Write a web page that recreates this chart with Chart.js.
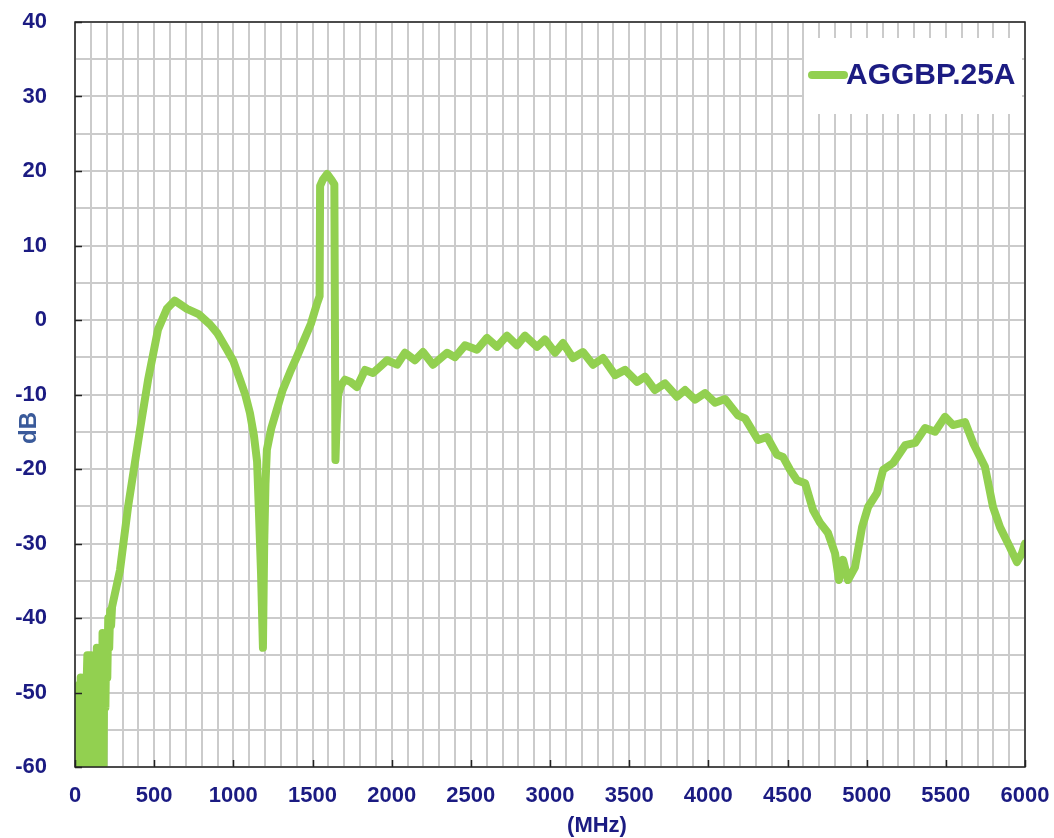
<!DOCTYPE html>
<html>
<head>
<meta charset="utf-8">
<script src="https://cdn.jsdelivr.net/npm/chart.js@4/dist/chart.umd.min.js"></script>
<style>
  html, body { margin: 0; padding: 0; background: #fff; }
  #wrap { width: 1054px; height: 838px; }
</style>
</head>
<body>
<div id="wrap"><canvas id="chart" width="1054" height="838"></canvas></div>
<script>
/* ----- data ----- */
const seriesName = 'AGGBP.25A';

const freqMHz = [
  0, 6, 12, 18, 24, 30, 36, 42, 48, 54, 60, 66, 72, 78, 84, 90, 96, 102, 108, 114,
  120, 126, 132, 138, 144, 150, 156, 162, 168, 174, 180, 186, 192, 198, 204, 210, 216, 222, 228, 234,
  284, 335, 410, 461, 524, 580, 630, 707, 780, 853, 900, 960, 1000, 1042, 1075, 1105, 1130, 1150,
  1162, 1175, 1187, 1195, 1203, 1212, 1240, 1275, 1310, 1358, 1400, 1440, 1490, 1530, 1545, 1548,
  1565, 1592, 1620, 1638, 1645, 1652, 1662, 1680, 1705, 1740, 1781, 1832, 1882, 1930, 1971, 2034,
  2084, 2147, 2198, 2261, 2350, 2400, 2463, 2539, 2602, 2665, 2728, 2792, 2842, 2918, 2968, 3032,
  3082, 3145, 3208, 3272, 3335, 3411, 3474, 3550, 3600, 3663, 3726, 3802, 3853, 3916, 3979, 4042,
  4105, 4187, 4232, 4314, 4371, 4434, 4472, 4516, 4560, 4611, 4661, 4705, 4756, 4800, 4825, 4851,
  4882, 4926, 4971, 5009, 5066, 5104, 5167, 5243, 5306, 5369, 5432, 5495, 5545, 5621, 5672, 5747,
  5798, 5842, 5905, 5949, 5981, 6000
];

const levelDb = [
  -55, -60, -54, -60, -49, -60, -48, -60, -49, -59, -48, -60, -50, -45, -60, -45, -57, -45, -60, -47,
  -60, -47, -58, -44, -60, -44, -59, -44, -60, -42, -60, -42, -52, -42, -48, -40, -44, -39, -41, -38.5,
  -33.6, -25.1, -14.8, -8.1, -1.3, 1.5, 2.6, 1.5, 0.8, -0.6, -1.8, -4, -5.5, -8, -10, -12.5, -15.5, -19,
  -26, -34, -44, -30, -22, -17.4, -14.5, -12, -9.5, -7, -5, -3, -0.5, 2.3, 3.2, 18,
  18.8, 19.6, 18.8, 18.2, -18.8, -14, -10, -8.8, -8, -8.3, -9, -6.7, -7.1, -6.2, -5.4, -6,
  -4.4, -5.4, -4.3, -6, -4.4, -5, -3.4, -4, -2.4, -3.6, -2.1, -3.4, -2.1, -3.6, -2.6, -4.4,
  -3.1, -5.1, -4.3, -6, -5.1, -7.4, -6.7, -8.3, -7.6, -9.4, -8.5, -10.3, -9.4, -10.7, -9.8, -11.1,
  -10.6, -12.8, -13.2, -16.1, -15.7, -18.1, -18.4, -20.1, -21.5, -21.9, -25.5, -27.2, -28.6, -31.3, -34.9, -32.2,
  -34.9, -33.2, -27.8, -25.1, -23.2, -20.1, -19.2, -16.8, -16.5, -14.5, -15, -13, -14.1, -13.7, -16.5, -19.7,
  -25.1, -27.8, -30.5, -32.5, -31.3, -30
];

const xTickLabels = [0, 500, 1000, 1500, 2000, 2500, 3000, 3500, 4000, 4500, 5000, 5500, 6000];
const yTickLabels = [-60, -50, -40, -30, -20, -10, 0, 10, 20, 30, 40];

/* ----- styles ----- */
const FONT = "'Liberation Sans', Arial, sans-serif";
const NAVY = '#1b1b82';
const GREEN = '#92d050';

/* frame, inward ticks, axis titles, legend box */
const decor = {
  id: 'decor',
  afterDraw(c) {
    const { ctx, chartArea: a } = c;
    const xs = c.scales.x, ys = c.scales.y;
    ctx.save();

    // legend
    const lx = a.right - 221, ly = a.top + 16;
    ctx.fillStyle = '#fff';
    ctx.fillRect(lx, ly, 218, 76);
    ctx.strokeStyle = c.data.datasets[0].borderColor;
    ctx.lineWidth = 8;
    ctx.lineCap = 'round';
    ctx.beginPath();
    ctx.moveTo(lx + 8, ly + 37);
    ctx.lineTo(lx + 40, ly + 37);
    ctx.stroke();
    ctx.fillStyle = NAVY;
    ctx.font = `bold 30px ${FONT}`;
    ctx.textBaseline = 'middle';
    ctx.textAlign = 'left';
    ctx.fillText(c.data.datasets[0].label, lx + 42, ly + 38);

    // frame
    ctx.lineCap = 'butt';
    ctx.strokeStyle = '#222';
    ctx.lineWidth = 1.5;
    ctx.strokeRect(a.left, a.top, a.right - a.left, a.bottom - a.top);

    // small inward ticks
    ctx.beginPath();
    xTickLabels.forEach(v => {
      const px = Math.round(xs.getPixelForValue(v)) + 0.5;
      ctx.moveTo(px, a.bottom);
      ctx.lineTo(px, a.bottom - 7);
    });
    yTickLabels.forEach(v => {
      const py = Math.round(ys.getPixelForValue(v)) + 0.5;
      ctx.moveTo(a.left, py);
      ctx.lineTo(a.left + 7, py);
    });
    ctx.stroke();

    // axis titles
    ctx.fillStyle = NAVY;
    ctx.font = `bold 22px ${FONT}`;
    ctx.textAlign = 'center';
    ctx.fillText('(MHz)', 597, 826);

    ctx.fillStyle = '#3a5a9a';
    ctx.font = `bold 24px ${FONT}`;
    ctx.translate(29, 428);
    ctx.rotate(-Math.PI / 2);
    ctx.fillText('dB', 0, 0);
    ctx.restore();
  }
};

const points = freqMHz.map((f, i) => ({ x: f, y: levelDb[i] }));

new Chart(document.getElementById('chart'), {
  type: 'line',
  data: {
    datasets: [{
      label: seriesName,
      data: points,
      borderColor: GREEN,
      borderWidth: 8,
      pointRadius: 0,
      tension: 0,
      borderJoinStyle: 'round',
      borderCapStyle: 'round'
    }]
  },
  options: {
    responsive: false,
    animation: false,
    layout: { padding: { top: 22, right: 29, left: 0, bottom: 0 } },
    plugins: { legend: { display: false }, tooltip: { enabled: false } },
    scales: {
      x: {
        type: 'linear',
        min: 0, max: 6000,
        afterFit: s => { s.height = 71; s.paddingLeft = 0; s.paddingRight = 0; },
        grid: { color: '#cbcbcb', lineWidth: 2, drawTicks: false },
        border: { display: false },
        ticks: {
          stepSize: 100,
          autoSkip: false,
          maxRotation: 0,
          padding: 16,
          color: NAVY,
          font: { family: FONT, size: 22, weight: 'bold' },
          callback: v => (xTickLabels.includes(v) ? String(v) : '')
        }
      },
      y: {
        min: -60, max: 40,
        afterFit: s => { s.width = 75; s.paddingTop = 0; s.paddingBottom = 0; },
        grid: { color: '#cbcbcb', lineWidth: 2, drawTicks: false },
        border: { display: false },
        ticks: {
          stepSize: 5,
          autoSkip: false,
          padding: 28,
          color: NAVY,
          font: { family: FONT, size: 22, weight: 'bold' },
          callback: v => (yTickLabels.includes(v) ? String(v) : '')
        }
      }
    }
  },
  plugins: [decor]
});
</script>
</body>
</html>
